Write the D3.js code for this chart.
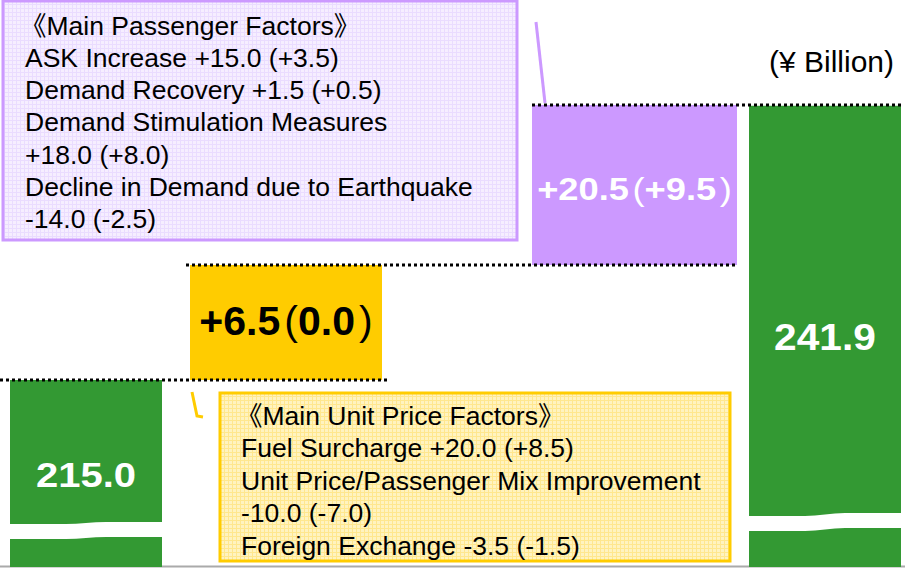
<!DOCTYPE html>
<html>
<head>
<meta charset="utf-8">
<script src="https://cdn.jsdelivr.net/npm/d3@7"></script>
<style>
  body { margin: 0; background: #fff; }
  svg { display: block; }
  text { font-family: "Liberation Sans", Arial, "Noto Sans CJK JP", sans-serif; }
</style>
</head>
<body>
<script>
// waterfall data (¥ Billion)
const categories = ["FY2010", "Unit Price", "Passenger", "FY2011"];
const kinds = ["total", "delta", "delta", "total"];
const values = [215.0, 6.5, 20.5, 241.9];
const valueLabels = ["215.0", "+6.5", "+20.5", "241.9"];
const subLabels = [null, "0.0", "+9.5", null];   // shown in brackets after the value

const unitPriceNotes = [
  "《Main Unit Price Factors》",
  "Fuel Surcharge +20.0 (+8.5)",
  "Unit Price/Passenger Mix Improvement",
  "-10.0 (-7.0)",
  "Foreign Exchange -3.5 (-1.5)"
];
const passengerNotes = [
  "《Main Passenger Factors》",
  "ASK Increase +15.0 (+3.5)",
  "Demand Recovery +1.5 (+0.5)",
  "Demand Stimulation Measures",
  "+18.0 (+8.0)",
  "Decline in Demand due to Earthquake",
  "-14.0 (-2.5)"
];

const W = 905, H = 568;
const svg = d3.select("body").append("svg").attr("width", W).attr("height", H);

// build waterfall rows
let run = 0;
const rows = categories.map((c, i) => {
  let y0, y1;
  if (kinds[i] === "total") { y0 = 0; y1 = values[i]; run = values[i]; }
  else { y0 = run; y1 = run + values[i]; run = y1; }
  return { cat: c, kind: kinds[i], y0, y1, label: valueLabels[i], sub: subLabels[i] };
});

// schematic (not to scale) value axis, piecewise
const y = d3.scaleLinear()
  .domain([0, 215, 221.5, 242])
  .range([567, 380, 265, 105]);

const xLeft = d3.scaleOrdinal().domain(categories).range([10, 190, 532, 749]);
const xWidth = d3.scaleOrdinal().domain(categories).range([152, 192, 205, 152]);
const fill = d3.scaleOrdinal().domain(categories).range(["#339933", "#FFCC00", "#CC99FF", "#339933"]);
const labelColor = d3.scaleOrdinal().domain(categories).range(["#fff", "#000", "#fff", "#fff"]);
const labelSize = d3.scaleOrdinal().domain(categories).range([36, 41, 31, 36]);
const labelStretch = d3.scaleOrdinal().domain(categories).range([1.11, 1.0, 1.17, 1.13]);
const labelY = d3.scaleOrdinal().domain(categories).range([475, 321, 189, 337]);

// patterns for callout boxes
const defs = svg.append("defs");
function grid(id, bg, line) {
  const p = defs.append("pattern").attr("id", id)
    .attr("width", 4).attr("height", 4).attr("patternUnits", "userSpaceOnUse");
  p.append("rect").attr("width", 4).attr("height", 4).attr("fill", bg);
  p.append("path").attr("d", "M0,0.5H4M0.5,0V4").attr("stroke", line).attr("stroke-width", 1);
}
grid("gridPurple", "#F6EEFF", "#EADCFF");
grid("gridGold", "#FFF3C0", "#FFE78E");

// baseline
svg.append("line")
  .attr("x1", 0).attr("x2", W).attr("y1", 566.5).attr("y2", 566.5)
  .attr("stroke", "#aaa").attr("stroke-width", 2);

// bars
svg.selectAll("rect.bar")
  .data(rows)
  .enter().append("rect")
    .attr("class", "bar")
    .attr("x", d => xLeft(d.cat))
    .attr("width", d => xWidth(d.cat))
    .attr("y", d => y(d.y1))
    .attr("height", d => y(d.y0) - y(d.y1))
    .attr("fill", d => fill(d.cat));

// axis break bands on total bars
const breakTop = { "FY2010": [524, 522], "FY2011": [516, 513] };
const wave = d3.line().curve(d3.curveMonotoneX);
rows.filter(d => d.kind === "total").forEach(d => {
  const x0 = xLeft(d.cat), x1 = x0 + xWidth(d.cat), xm = (x0 + x1) / 2;
  const [a, b] = breakTop[d.cat];
  const band = 15;
  const top = [[x0 - 1, a], [xm - 20, a], [xm + 20, b], [x1 + 1, b]];
  const bot = [[x1 + 1, b + band], [xm + 20, b + band], [xm - 20, a + band], [x0 - 1, a + band]];
  svg.append("path")
    .attr("d", wave(top) + "L" + wave(bot).slice(1) + "Z")
    .attr("fill", "#fff");
});

// dotted connectors
const connectors = [
  { v: 215, x1: 0, x2: 388 },
  { v: 221.5, x1: 186, x2: 738 },
  { v: 242, x1: 532, x2: 901 }
];
svg.selectAll("line.conn")
  .data(connectors)
  .enter().append("line")
    .attr("class", "conn")
    .attr("x1", d => d.x1).attr("x2", d => d.x2)
    .attr("y1", d => y(d.v)).attr("y2", d => y(d.v))
    .attr("stroke", "#000").attr("stroke-width", 3)
    .attr("stroke-dasharray", "3,3");

// value labels
const lab = svg.selectAll("g.val")
  .data(rows)
  .enter().append("g")
    .attr("class", "val")
    .attr("transform", d => `translate(${xLeft(d.cat) + xWidth(d.cat) / 2},${labelY(d.cat)}) scale(${labelStretch(d.cat)},1)`)
  .append("text")
    .attr("text-anchor", "middle")
    .attr("dominant-baseline", "central")
    .attr("font-weight", "bold")
    .attr("font-size", d => labelSize(d.cat))
    .attr("fill", d => labelColor(d.cat));
lab.append("tspan").text(d => d.label);
lab.filter(d => d.sub).append("tspan").attr("dx", "0.1em").attr("font-weight", "normal").text("(");
lab.filter(d => d.sub).append("tspan").text(d => d.sub);
lab.filter(d => d.sub).append("tspan").attr("dx", "0.1em").attr("font-weight", "normal").text(")");

// unit label
svg.append("text")
  .attr("x", 894).attr("y", 72)
  .attr("text-anchor", "end")
  .attr("font-size", 30)
  .text("(¥ Billion)");

// callouts
function callout(box, lines, pattern, stroke, leader) {
  svg.append("path")
    .attr("d", d3.line()(leader))
    .attr("fill", "none").attr("stroke", stroke).attr("stroke-width", 3);
  svg.append("rect")
    .attr("x", box.x).attr("y", box.y).attr("width", box.w).attr("height", box.h)
    .attr("fill", `url(#${pattern})`).attr("stroke", stroke).attr("stroke-width", 3);
  svg.append("g").selectAll("text")
    .data(lines)
    .enter().append("text")
      .attr("x", d => box.x + box.pad - (d.startsWith("《") ? 5 : 0))
      .attr("y", (d, i) => box.y + box.first + i * box.step)
      .attr("font-size", 26.5)
      .attr("fill", "#000")
      .text(d => d);
}

callout({ x: 3, y: 1, w: 514, h: 239, pad: 22, first: 33.5, step: 32.3 },
  passengerNotes, "gridPurple", "#CC99FF", [[536, 22], [545, 103]]);
callout({ x: 220, y: 393, w: 510, h: 168, pad: 21, first: 31.5, step: 32.5 },
  unitPriceNotes, "gridGold", "#FFCC00", [[192, 392], [197, 416], [203, 417]]);
</script>
</body>
</html>
